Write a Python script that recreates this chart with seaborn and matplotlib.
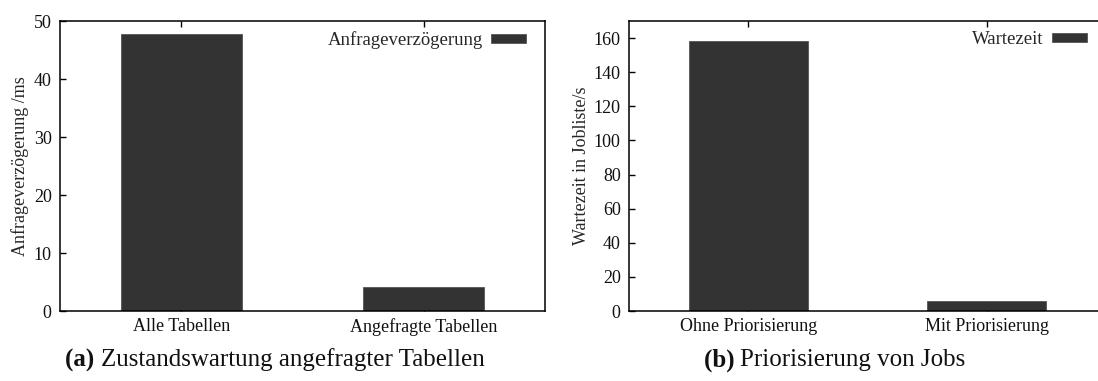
import matplotlib
matplotlib.use("Agg")
import matplotlib.pyplot as plt
import seaborn as sns
import pandas as pd

# Data
cats_a = ["Alle Tabellen", "Angefragte Tabellen"]
vals_a = [47.8, 4.2]
series_a = "Anfrageverzögerung"
ylabel_a = "Anfrageverzögerung /ms"
yticks_a = [0, 10, 20, 30, 40, 50]
caption_a_tag = "(a)"
caption_a = "Zustandswartung angefragter Tabellen"

cats_b = ["Ohne Priorisierung", "Mit Priorisierung"]
vals_b = [158.5, 6.0]
series_b = "Wartezeit"
ylabel_b = "Wartezeit in Jobliste/s"
yticks_b = [0, 20, 40, 60, 80, 100, 120, 140, 160]
caption_b_tag = "(b)"
caption_b = "Priorisierung von Jobs"

sns.set_theme(style="white")
plt.rcParams["font.family"] = ["Liberation Serif", "DejaVu Serif"]

W, H = 1098, 381
fig = plt.figure(figsize=(W / 100, H / 100), dpi=100)
BAR = "#333333"
TICKFS = 13
LEGFS = 13.5


def px_axes(x0, x1, y0, y1):
    return fig.add_axes([x0 / W, 1 - y1 / H, (x1 - x0) / W, (y1 - y0) / H])


def panel(ax, cats, vals, name, ylabel, yticks, ymax):
    df = pd.DataFrame({"cat": cats, "val": vals})
    sns.barplot(data=df, x="cat", y="val", color=BAR, width=0.5, ax=ax,
                label=name, edgecolor="#555555", linewidth=0.6, saturation=1)
    ax.set_xlim(-0.5, 1.5)
    ax.set_ylim(0, ymax)
    ax.set_yticks(yticks)
    ax.set_xlabel("")
    ax.set_ylabel(ylabel, fontsize=TICKFS, labelpad=3)
    for s in ax.spines.values():
        s.set_visible(True)
        s.set_color("black")
        s.set_linewidth(1.1)
    ax.tick_params(axis="x", direction="in", length=4, width=1, top=True,
                   bottom=True, labelsize=TICKFS, pad=5, colors="black")
    ax.tick_params(axis="y", direction="in", length=4, width=1, left=True,
                   right=False, labelsize=TICKFS, pad=6, colors="black")
    for lbl in ax.get_xticklabels() + ax.get_yticklabels():
        lbl.set_color("#111111")
    ax.legend(loc="upper right", markerfirst=False, frameon=False,
              fontsize=LEGFS, handlelength=1.85, handleheight=0.38,
              handletextpad=0.45, borderpad=0, borderaxespad=0,
              bbox_to_anchor=(1 - 19 / ax.bbox.width, 1 - 10 / ax.bbox.height))


ax_a = px_axes(60, 545, 21, 311)
panel(ax_a, cats_a, vals_a, series_a, ylabel_a, yticks_a, 50)

ax_b = px_axes(629, 1106, 21, 311)
panel(ax_b, cats_b, vals_b, series_b, ylabel_b, yticks_b, 170)

# Subfigure captions: bold tag followed by regular text, centred as a whole
CAPFS = 18
CAPY = 1 - 360 / H
for cx, tag, text in [(274, caption_a_tag, caption_a), (834, caption_b_tag, caption_b)]:
    probe = fig.text(0, CAPY, f"{tag} {text}", fontsize=CAPFS, alpha=0)
    fig.canvas.draw()
    width = probe.get_window_extent().width
    probe.remove()
    tb = fig.text((cx - width / 2) / W, CAPY, tag + " ", fontsize=CAPFS,
                  fontweight="bold", ha="left", va="center", color="#111111")
    fig.canvas.draw()
    bb2 = tb.get_window_extent()
    fig.text(bb2.x1 / W, CAPY, text, fontsize=CAPFS,
             ha="left", va="center", color="#111111")

fig.savefig("out.png", dpi=100)
